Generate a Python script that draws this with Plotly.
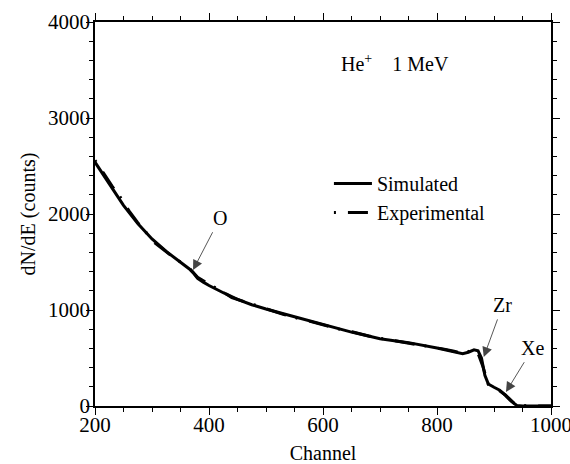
import plotly.graph_objects as go

# Simulated spectrum
sim_channel = [200, 225, 250, 275, 300, 325, 350, 365, 372, 380, 390, 400, 425, 450, 475, 500,
               550, 600, 650, 700, 750, 800, 830, 845, 855, 865, 872, 878, 884, 890, 900, 910,
               920, 930, 940, 950, 1000]
sim_counts = [2540, 2310, 2090, 1900, 1740, 1610, 1500, 1430, 1390, 1330, 1290, 1255, 1180, 1110,
              1055, 1010, 930, 850, 770, 700, 660, 605, 570, 545, 560, 585, 575, 500, 320, 230,
              195, 165, 110, 50, 5, 0, 0]

# Experimental spectrum
exp_channel = [200, 215, 230, 245, 260, 275, 290, 305, 320, 335, 350, 365, 380, 395, 410, 425,
               440, 455, 470, 485, 500, 515, 530, 545, 560, 575, 590, 605, 620, 635, 650, 665,
               680, 695, 710, 725, 740, 755, 770, 785, 800, 815, 830, 845, 860, 870, 880, 890,
               905, 920, 935, 950, 965, 980, 1000]
exp_counts = [2560, 2420, 2290, 2170, 2030, 1910, 1800, 1700, 1630, 1560, 1500, 1440, 1340, 1290,
              1240, 1185, 1130, 1100, 1070, 1040, 1015, 985, 955, 935, 905, 885, 860, 840, 810,
              790, 775, 750, 730, 710, 695, 685, 670, 655, 640, 625, 605, 590, 570, 550, 575,
              580, 420, 225, 180, 115, 30, 5, 0, 0, 0]

# Peak labels: (label, channel, counts at arrow tip, text offset px)
peak_labels = ["O", "Zr", "Xe"]
peak_channel = [372, 882, 921]
peak_counts = [1417, 510, 146]
peak_ax = [27, 19, 27]
peak_ay = [-52, -52, -44]

x_ticks = [200, 400, 600, 800, 1000]
y_ticks = [0, 1000, 2000, 3000, 4000]

FONT = "Liberation Serif"

fig = go.Figure()
fig.add_trace(go.Scatter(x=sim_channel, y=sim_counts, mode="lines", name="Simulated",
                         line=dict(color="black", width=3)))
fig.add_trace(go.Scatter(x=exp_channel, y=exp_counts, mode="lines", name="Experimental",
                         line=dict(color="black", width=3, dash="2px,12px,20px,10px")))

for lab, cx, cy, ax, ay in zip(peak_labels, peak_channel, peak_counts, peak_ax, peak_ay):
    fig.add_annotation(x=cx, y=cy, text=lab, showarrow=True, ax=ax, ay=ay,
                       arrowhead=2, arrowsize=2.2, arrowwidth=0.9, arrowcolor="#444444",
                       standoff=0, startstandoff=2,
                       font=dict(family=FONT, size=20, color="black"))

fig.add_annotation(x=0.535, y=0.894, xref="paper", yref="paper", xanchor="left", yanchor="middle",
                   text="He<sup>+</sup>&nbsp;&nbsp;&nbsp;&nbsp;1 MeV", showarrow=False,
                   font=dict(family=FONT, size=20, color="black"))

axis_common = dict(showline=True, linecolor="black", linewidth=1.5, mirror="ticks",
                   ticks="outside", ticklen=7, tickwidth=1.2, tickcolor="black",
                   showgrid=False, zeroline=False, automargin=False,
                   ticklabeloverflow="allow",
                   tickfont=dict(family=FONT, size=21, color="black"),
                   title_font=dict(family=FONT, size=20, color="black"))

fig.update_xaxes(range=[200, 1000], tickvals=x_ticks, title_text="Channel",
                 minor=dict(dtick=50, ticklen=4, tickcolor="black", ticks="outside"),
                 ticklabelstandoff=-8, title_standoff=10, **axis_common)
fig.update_yaxes(range=[0, 4000], tickvals=y_ticks, title_text="dN/dE (counts)",
                 minor=dict(dtick=200, ticklen=4, tickcolor="black", ticks="outside"),
                 ticklabelstandoff=-8, title_standoff=7, **axis_common)

fig.update_layout(
    width=570, height=464,
    margin=dict(l=95, r=19, t=22, b=58),
    paper_bgcolor="white", plot_bgcolor="white",
    showlegend=True,
    legend=dict(x=0.513, y=0.630, xanchor="left", yanchor="top",
                bgcolor="rgba(0,0,0,0)", font=dict(family=FONT, size=20, color="black"),
                itemwidth=38, tracegroupgap=0),
)

fig.write_html("out.html", config={"displayModeBar": False},
               post_script="document.body.style.margin='0px';document.body.style.overflow='hidden';")
